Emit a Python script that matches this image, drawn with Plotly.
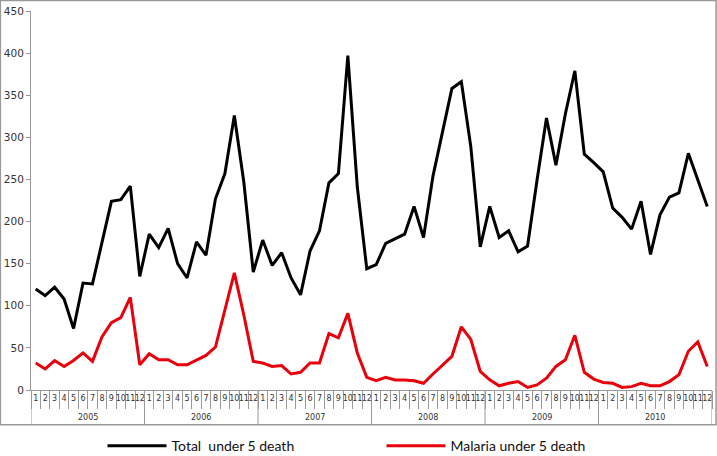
import plotly.graph_objects as go

years = ["2005", "2006", "2007", "2008", "2009", "2010"]
months = [str(m) for m in range(1, 13)]

total_under5 = [
    120, 112, 122, 108, 73, 127, 126, 175, 224, 226, 242, 135,
    185, 169, 192, 150, 133, 176, 160, 227, 257, 326, 247, 140,
    178, 148, 163, 133, 113, 165, 189, 246, 257, 397, 241, 144,
    149, 174, 180, 185, 218, 181, 254, 307, 358, 366, 289, 170,
    218, 181, 189, 164, 171, 249, 323, 267, 328, 379, 280, 270,
    259, 216, 205, 191, 224, 161, 208, 229, 234, 281, 249, 218,
]
malaria_under5 = [
    32, 25, 35, 28, 35, 44, 34, 63, 80, 86, 110, 30,
    43, 36, 36, 30, 30, 36, 41, 51, 95, 139, 89, 34,
    32, 28, 29, 19, 21, 32, 32, 67, 62, 91, 44, 15,
    11, 15, 12, 12, 11, 8, 19, 30, 40, 75, 60, 22,
    12, 5, 8, 10, 3, 6, 14, 28, 36, 65, 21, 13,
    9, 8, 3, 4, 8, 5, 5, 10, 18, 46, 57, 28,
]

n = len(years) * len(months)
idx = list(range(n))
month_labels = months * len(years)

fig = go.Figure()
fig.add_trace(go.Scatter(x=idx, y=total_under5, mode="lines",
                         name="Total  under 5 death",
                         line=dict(color="black", width=3)))
fig.add_trace(go.Scatter(x=idx, y=malaria_under5, mode="lines",
                         name="Malaria under 5 death",
                         line=dict(color="#e8000b", width=3)))

# year labels and year separators below the month row
for i, yr in enumerate(years):
    fig.add_annotation(x=i * 12 + 5.5, y=0, xref="x", yref="paper", text=yr,
                       showarrow=False, yshift=-27, yanchor="middle",
                       font=dict(family="DejaVu Sans", size=8, color="#333"))
for i in range(len(years) + 1):
    fig.add_shape(type="line", xref="x", yref="paper",
                  x0=i * 12 - 0.5, x1=i * 12 - 0.5, y0=0, y1=-0.092,
                  line=dict(color="#999", width=1))

fig.update_layout(
    width=717, height=456,
    margin=dict(l=31, r=5, t=11, b=66, autoexpand=False),
    plot_bgcolor="white", paper_bgcolor="white",
    font=dict(family="DejaVu Sans", size=10, color="#333"),
    showlegend=True,
    legend=dict(orientation="h", x=0.105, xanchor="left", y=-0.148, yanchor="middle",
                font=dict(family="Lato", size=14, color="#111"),
                itemwidth=59, entrywidthmode="pixels", entrywidth=205,
                bgcolor="rgba(0,0,0,0)"),
    xaxis=dict(
        range=[-0.5, n - 0.5],
        tickmode="array", tickvals=idx, ticktext=month_labels, tickangle=0,
        ticks="", showline=True, linecolor="#999", linewidth=1,
        tickfont=dict(size=8, color="#333"),
        showgrid=False, zeroline=False,
        minor=dict(tickmode="array", tickvals=[i - 0.5 for i in range(n + 1)],
                   ticks="outside", ticklen=18, tickcolor="#999", showgrid=False),
    ),
    yaxis=dict(
        range=[0, 450], dtick=50,
        showline=True, linecolor="#999", linewidth=1,
        ticks="outside", ticklen=4, tickcolor="#999",
        showgrid=False, zeroline=False,
        tickfont=dict(size=10.5, color="#333"),
    ),
)

# grey frame around the chart area
fig.add_shape(type="rect", xref="paper", yref="paper",
              x0=-0.045, x1=1.006, y0=-0.092, y1=1.028,
              line=dict(color="#999", width=1.5), layer="below")

fig.write_html("out.html", config={"displayModeBar": False},
               post_script="document.body.style.margin='0px';")
